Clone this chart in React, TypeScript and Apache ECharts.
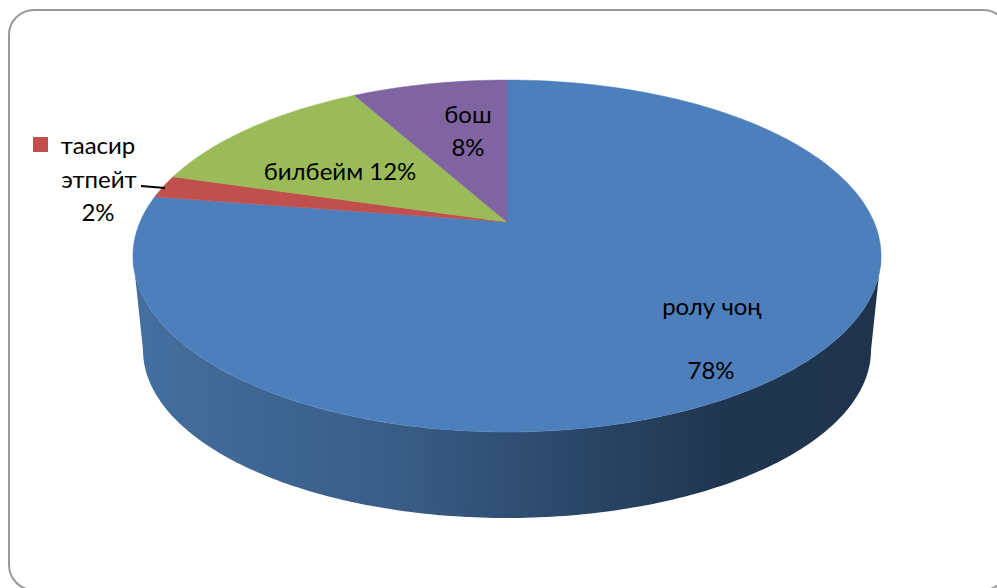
import React, { useEffect, useRef } from "react";
import * as echarts from "echarts";

const categories = ["ролу чоң", "таасир этпейт", "билбейм", "бош"];
const shares = [77.6, 2.1, 12.4, 8.1];
const sliceColors = ["#4d7fbc", "#c0504d", "#9bbb59", "#8064a2"];
const FONT = "Lato, Carlito, 'Open Sans', sans-serif";

// perspective view of the pie
const CX = 507, AY = 222, K = 0.1932, CU = 367, BV = 169.4;
const top = (t: number) => {
  const u = Math.sin(t), v = Math.cos(t), w = 1 + K * v;
  return [CX + (CU * u) / w, AY - (BV * v) / w];
};

function sliceRender(_: any, api: any) {
  const i = api.value(1) as number;
  const total = shares.reduce((a, b) => a + b, 0);
  const before = shares.slice(0, i).reduce((a, b) => a + b, 0);
  const a0 = (before / total) * Math.PI * 2;
  const a1 = ((before + (api.value(0) as number)) / total) * Math.PI * 2;
  const n = Math.max(4, Math.ceil((a1 - a0) * 60));
  const points: number[][] = [[CX, AY]];
  for (let k = 0; k <= n; k++) points.push(top(a0 + ((a1 - a0) * k) / n));
  return {
    type: "polygon",
    shape: { points },
    style: { fill: sliceColors[i], stroke: sliceColors[i], lineWidth: 0.5 },
  };
}

function wallRender() {
  const N = 180;
  const rim: number[][] = [];
  for (let k = 0; k <= N; k++) {
    const t = Math.PI * (k / N);
    rim.push([507 + 374 * Math.cos(t), 256 + 176 * Math.sin(t)]);
  }
  const low: number[][] = [];
  for (let k = N; k >= 0; k--) {
    const t = Math.PI * (k / N);
    low.push([507 + 364 * Math.cos(t), 350 + 168 * Math.sin(t)]);
  }
  return {
    type: "polygon",
    shape: { points: [...rim, ...low] },
    style: {
      fill: new echarts.graphic.LinearGradient(0, 0, 1, 0, [
        { offset: 0, color: "#446f9f" },
        { offset: 0.35, color: "#395d87" },
        { offset: 0.55, color: "#2d4b6d" },
        { offset: 0.78, color: "#203650" },
        { offset: 1, color: "#1f344c" },
      ]),
    },
  };
}

const labelStyle = (text: string, x: number, y: number) => ({
  type: "text",
  x,
  y,
  z: 10,
  style: { text, fill: "#000", font: `24px ${FONT}`, align: "center", verticalAlign: "middle" },
});
const pct = (i: number) => `${Math.round(shares[i])}%`;

export default function App() {
  const ref = useRef<HTMLDivElement>(null);
  useEffect(() => {
    document.body.style.margin = "0";
    const chart = echarts.init(ref.current!, null, { renderer: "svg" });
    chart.setOption({
      animation: false,
      backgroundColor: "#fff",
      graphic: [
        {
          type: "rect",
          z: 0,
          shape: { x: 9, y: 10, width: 999, height: 580, r: 25 },
          style: { fill: "#fff", stroke: "#999", lineWidth: 2 },
        },
        {
          type: "rect",
          z: 10,
          shape: { x: 33, y: 137, width: 15, height: 15 },
          style: { fill: sliceColors[1] },
        },
        {
          type: "line",
          z: 10,
          shape: { x1: 141, y1: 186, x2: 165, y2: 188 },
          style: { stroke: "#000", lineWidth: 2 },
        },
        labelStyle("таасир", 98, 144),
        labelStyle("этпейт", 99, 178),
        labelStyle(pct(1), 98, 211),
        labelStyle(`${categories[2]} ${pct(2)}`, 340, 170),
        labelStyle(categories[3], 468, 113),
        labelStyle(pct(3), 468, 146),
        labelStyle(categories[0], 712, 305),
        labelStyle(pct(0), 711, 369),
      ],
      series: [
        { type: "custom", coordinateSystem: "none", z: 2, data: [[0]], renderItem: wallRender },
        {
          type: "custom",
          coordinateSystem: "none",
          z: 3,
          data: shares.map((s, i) => [s, i]),
          renderItem: sliceRender,
        },
      ],
    });
    return () => chart.dispose();
  }, []);
  return <div ref={ref} style={{ width: 997, height: 588 }} />;
}
